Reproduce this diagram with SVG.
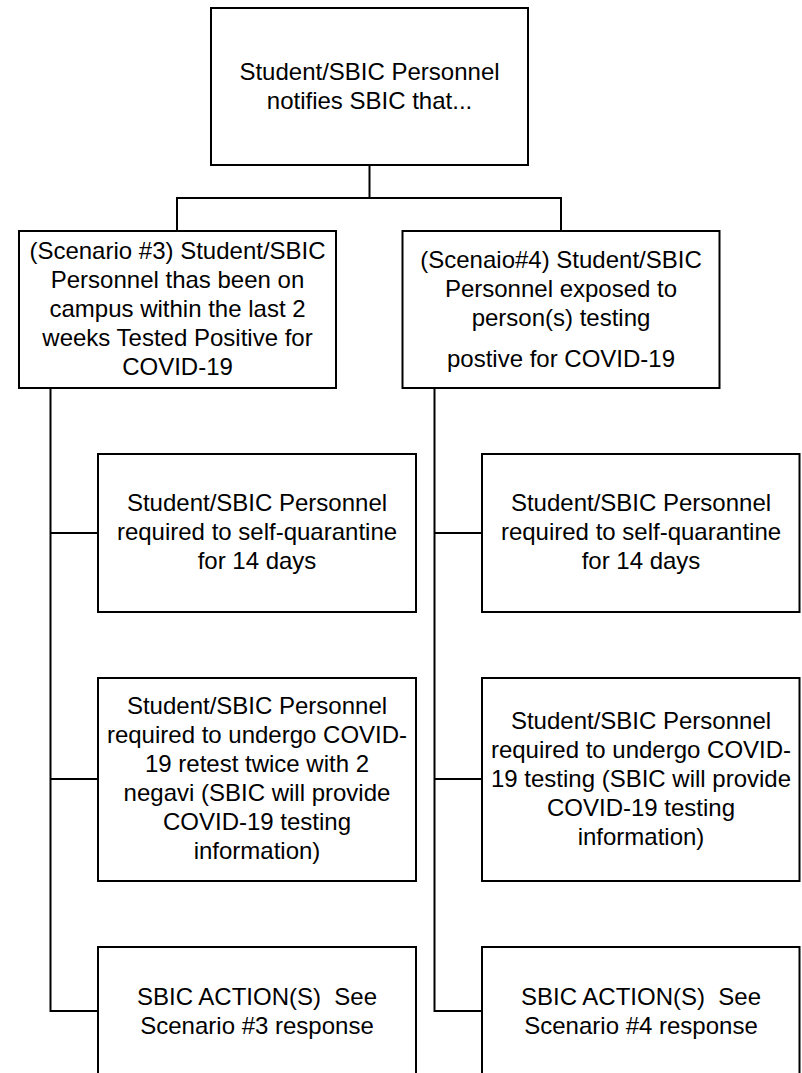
<svg xmlns="http://www.w3.org/2000/svg" width="802" height="1073" viewBox="0 0 802 1073">
<style>
.box{fill:#fff;stroke:#000;stroke-width:2}
.ln{fill:none;stroke:#000;stroke-width:2}
text{font-family:"Liberation Sans",Arial,sans-serif;font-size:24px;fill:#000;text-anchor:middle;white-space:pre}
</style>
<rect width="802" height="1073" fill="#fff"/>
<g id="connectors">
<polyline class="ln" points="369.5,165 369.5,198"/>
<polyline class="ln" points="177,231 177,198 561,198 561,231"/>
<polyline class="ln" points="50.5,388 50.5,1011 98,1011"/>
<line class="ln" x1="50.5" y1="533" x2="98" y2="533"/>
<line class="ln" x1="50.5" y1="779" x2="98" y2="779"/>
<polyline class="ln" points="434.5,388 434.5,1011 482,1011"/>
<line class="ln" x1="434.5" y1="533" x2="482" y2="533"/>
<line class="ln" x1="434.5" y1="779" x2="482" y2="779"/>
</g>
<g id="n_top">
<rect class="box" x="211" y="8" width="317" height="157"/>
<text x="369.5" y="80">Student/SBIC Personnel</text>
<text x="369.5" y="109">notifies SBIC that...</text>
</g>
<g id="n_s3">
<rect class="box" x="19" y="231" width="317" height="157"/>
<text x="177.5" y="259">(Scenario #3) Student/SBIC</text>
<text x="177.5" y="288">Personnel thas been on</text>
<text x="177.5" y="317">campus within the last 2</text>
<text x="177.5" y="346">weeks Tested Positive for</text>
<text x="177.5" y="375">COVID-19</text>
</g>
<g id="n_s4">
<rect class="box" x="402.5" y="231" width="317" height="157"/>
<text x="561" y="268">(Scenaio#4) Student/SBIC</text>
<text x="561" y="297">Personnel exposed to</text>
<text x="561" y="326">person(s) testing</text>
<text x="561" y="367">postive for COVID-19</text>
</g>
<g id="n_l1">
<rect class="box" x="98" y="454" width="318" height="158"/>
<text x="257" y="511">Student/SBIC Personnel</text>
<text x="257" y="540">required to self-quarantine</text>
<text x="257" y="569">for 14 days</text>
</g>
<g id="n_r1">
<rect class="box" x="482" y="454" width="317.5" height="158"/>
<text x="641" y="511">Student/SBIC Personnel</text>
<text x="641" y="540">required to self-quarantine</text>
<text x="641" y="569">for 14 days</text>
</g>
<g id="n_l2">
<rect class="box" x="98" y="678" width="318" height="203"/>
<text x="257" y="714">Student/SBIC Personnel</text>
<text x="257" y="743">required to undergo COVID-</text>
<text x="257" y="772">19 retest twice with 2</text>
<text x="257" y="801">negavi (SBIC will provide</text>
<text x="257" y="830">COVID-19 testing</text>
<text x="257" y="859">information)</text>
</g>
<g id="n_r2">
<rect class="box" x="482" y="678" width="317.5" height="203"/>
<text x="641" y="729">Student/SBIC Personnel</text>
<text x="641" y="758">required to undergo COVID-</text>
<text x="641" y="787">19 testing (SBIC will provide</text>
<text x="641" y="816">COVID-19 testing</text>
<text x="641" y="845">information)</text>
</g>
<g id="n_l3">
<rect class="box" x="98" y="947" width="318" height="140"/>
<text x="257" y="1005">SBIC ACTION(S)  See</text>
<text x="257" y="1034">Scenario #3 response</text>
</g>
<g id="n_r3">
<rect class="box" x="482" y="947" width="317.5" height="140"/>
<text x="641" y="1005">SBIC ACTION(S)  See</text>
<text x="641" y="1034">Scenario #4 response</text>
</g>
</svg>
